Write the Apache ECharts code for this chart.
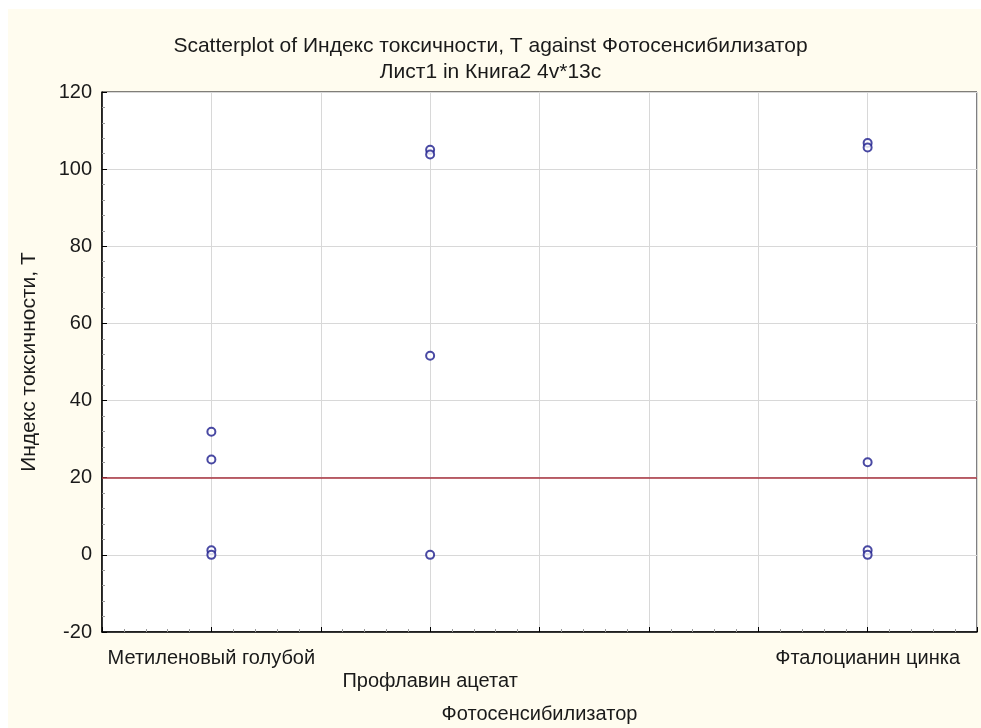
<!DOCTYPE html>
<html>
<head>
<meta charset="utf-8">
<title>Scatterplot</title>
<script src="https://cdn.jsdelivr.net/npm/echarts@6/dist/echarts.min.js"></script>
<style>
  html, body { margin: 0; padding: 0; background: #ffffff; }
  #bg { position: absolute; left: 8px; top: 9px; width: 973px; height: 719px; background: #fffcef; }
  #chart { position: absolute; left: 0; top: 0; width: 981px; height: 728px; }
</style>
</head>
<body>
<div id="bg"></div>
<div id="chart"></div>
<script>
// Photosensitizer groups (x positions on the category scale) and their labels
const categories = ['Метиленовый голубой', 'Профлавин ацетат', '', 'Фталоцианин цинка'];
const categoryPositions = [1, 2, 4];

// Toxicity index values for each photosensitizer
const methyleneBlue = [31.9, 24.7, 1.2, 0];
const proflavineAcetate = [105.0, 103.8, 51.6, 0];
const zincPhthalocyanine = [106.8, 105.6, 24.0, 1.2, 0];

// Threshold level shown as a horizontal reference line
const thresholdValue = 20;

const yTicks = { min: -20, max: 120, interval: 20 };

const points = [];
methyleneBlue.forEach(v => points.push([1, v]));
proflavineAcetate.forEach(v => points.push([2, v]));
zincPhthalocyanine.forEach(v => points.push([4, v]));

const font = 'Liberation Sans, Arial, sans-serif';
const textColor = '#1a1a1a';
const chart = echarts.init(document.getElementById('chart'));

chart.setOption({
  backgroundColor: 'transparent',
  animation: false,
  title: {
    text: 'Scatterplot of Индекс токсичности, T against Фотосенсибилизатор\nЛист1 in Книга2 4v*13c',
    left: 'center',
    top: 28,
    textStyle: { fontFamily: font, fontSize: 21, fontWeight: 'normal', color: textColor, lineHeight: 26 }
  },
  grid: {
    left: 102, top: 92, right: 4, bottom: 96,
    outerBoundsMode: 'none',
    containLabel: false,
    show: true, backgroundColor: '#ffffff', borderColor: '#000', borderWidth: 1
  },
  xAxis: {
    type: 'value',
    min: 0.5, max: 4.5, interval: 0.5,
    name: 'Фотосенсибилизатор',
    nameLocation: 'middle',
    nameGap: 72,
    nameTextStyle: { fontFamily: font, fontSize: 20, color: textColor },
    axisLine: { show: true, onZero: false, lineStyle: { color: '#000', width: 1.5 } },
    axisTick: { show: true, inside: true, length: 5, lineStyle: { color: '#000' } },
    minorTick: { show: true, splitNumber: 5, length: 3, lineStyle: { color: '#999' } },
    splitLine: { show: true, lineStyle: { color: '#d8d8d8', width: 1 } },
    axisLabel: {
      fontFamily: font, fontSize: 20, color: textColor, margin: 14, lineHeight: 24,
      showMinLabel: true, showMaxLabel: true,
      formatter: function (v) {
        if (categoryPositions.indexOf(v) < 0) return '';
        const name = categories[v - 1];
        return v === 2 ? '{lo|' + name + '}' : name;
      },
      rich: { lo: { fontFamily: font, fontSize: 20, color: textColor, padding: [46, 0, 0, 0] } }
    }
  },
  yAxis: {
    type: 'value',
    min: yTicks.min, max: yTicks.max, interval: yTicks.interval,
    name: 'Индекс токсичности, T',
    nameLocation: 'middle',
    nameGap: 62,
    nameTextStyle: { fontFamily: font, fontSize: 21, color: textColor },
    axisLine: { show: true, onZero: false, lineStyle: { color: '#000', width: 1.5 } },
    axisTick: { show: true, inside: true, length: 5, lineStyle: { color: '#000' } },
    minorTick: { show: true, splitNumber: 5, length: 3, lineStyle: { color: '#999' } },
    splitLine: { show: true, lineStyle: { color: '#d8d8d8', width: 1 } },
    axisLabel: { fontFamily: font, fontSize: 20, color: textColor, margin: 10 }
  },
  series: [{
    type: 'scatter',
    data: points,
    symbol: 'circle',
    symbolSize: 8,
    itemStyle: { color: '#ffffff', borderColor: '#1c1c8c', borderWidth: 2 },
    z: 5,
    markLine: {
      silent: true,
      symbol: ['none', 'none'],
      label: { show: false },
      lineStyle: { color: '#a8323e', width: 1.5, type: 'solid' },
      data: [{ yAxis: thresholdValue }]
    }
  }]
});
</script>
</body>
</html>
